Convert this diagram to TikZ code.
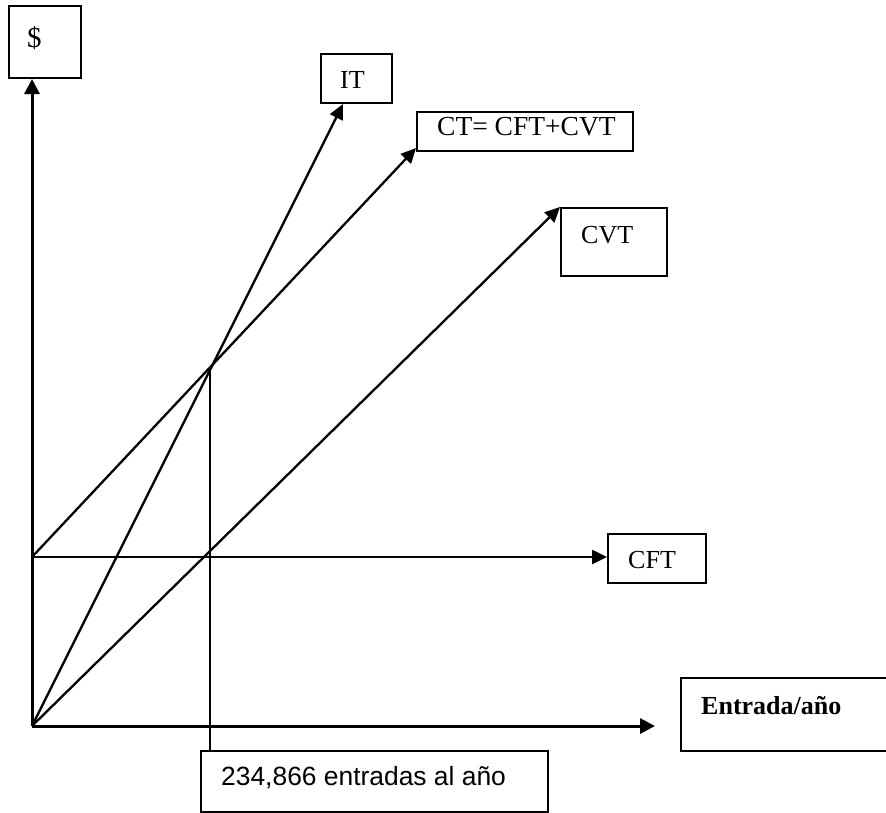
\documentclass[tikz,border=0pt]{standalone}
\usepackage{fontspec}
\setmainfont{Liberation Serif}
\newfontfamily\sansarial{Liberation Sans}
\usetikzlibrary{arrows.meta,calc}
\begin{document}
\begin{tikzpicture}[x=1pt,y=-1pt,
  box/.style={draw,line width=2pt,rectangle,inner sep=0pt,anchor=north west},
  lbl/.style={anchor=base west,inner sep=0pt,font=\fontsize{26}{31}\selectfont},
  axis/.style={line width=3pt,-{Triangle[length=15pt,width=15pt]}},
  ray/.style={line width=2.3pt,-{Triangle[length=15pt,width=14pt]}},
  guide/.style={line width=2pt}
]
\path[use as bounding box, clip] (0,0) rectangle (886,812);
\fill[white] (0,0) rectangle (886,812);

% boxes
\node[box,minimum width=72pt,minimum height=72pt] (dollar) at (8,5) {};
\node[box,minimum width=71pt,minimum height=49pt] (itbox) at (320,53) {};
\node[box,minimum width=216pt,minimum height=39pt] (ctbox) at (416,111) {};
\node[box,minimum width=106pt,minimum height=68pt] (cvtbox) at (560,207) {};
\node[box,minimum width=98pt,minimum height=49pt] (cftbox) at (607,533) {};
\node[box,minimum width=212pt,minimum height=73pt] (entbox) at (680,677) {};
\node[box,minimum width=347pt,minimum height=61pt] (numbox) at (200,750) {};

% texts
\node[lbl,font=\fontsize{29}{34}\selectfont] (tdollar) at (27,47) {\$};
\node[lbl] (tit) at (340,88) {IT};
\node[lbl,font=\fontsize{27.5}{33}\selectfont] (tct) at (437,135) {CT= CFT+CVT};
\node[lbl] (tcvt) at (581,243) {CVT};
\node[lbl] (tcft) at (628,568) {CFT};
\node[lbl,font=\fontsize{26}{31}\selectfont\bfseries] (tent) at (701,714) {Entrada/año};
\node[lbl,font=\fontsize{26.4}{31}\selectfont\sansarial] (tnum) at (221,785) {234,866 entradas al año};

% coordinates
\coordinate (O) at (32,726);
\coordinate (F) at (32,557);
\coordinate (P) at (210,367);
\coordinate (xend) at (655,726);

% axes
\draw[axis] (O) -- (O |- dollar.south);
\draw[axis] (O) -- (xend);

% lines
\draw[ray] (O) -- ($(itbox.south west)+(23,0)$);
\draw[ray] (F) -- ($(ctbox.south west)+(0,-4)$);
\draw[ray] (O) -- (cvtbox.north west);
\draw[ray,line width=2.6pt] (F) -- (F -| cftbox.west);

% break-even guide
\draw[guide] (P) -- (P |- numbox.north);
\end{tikzpicture}
\end{document}
